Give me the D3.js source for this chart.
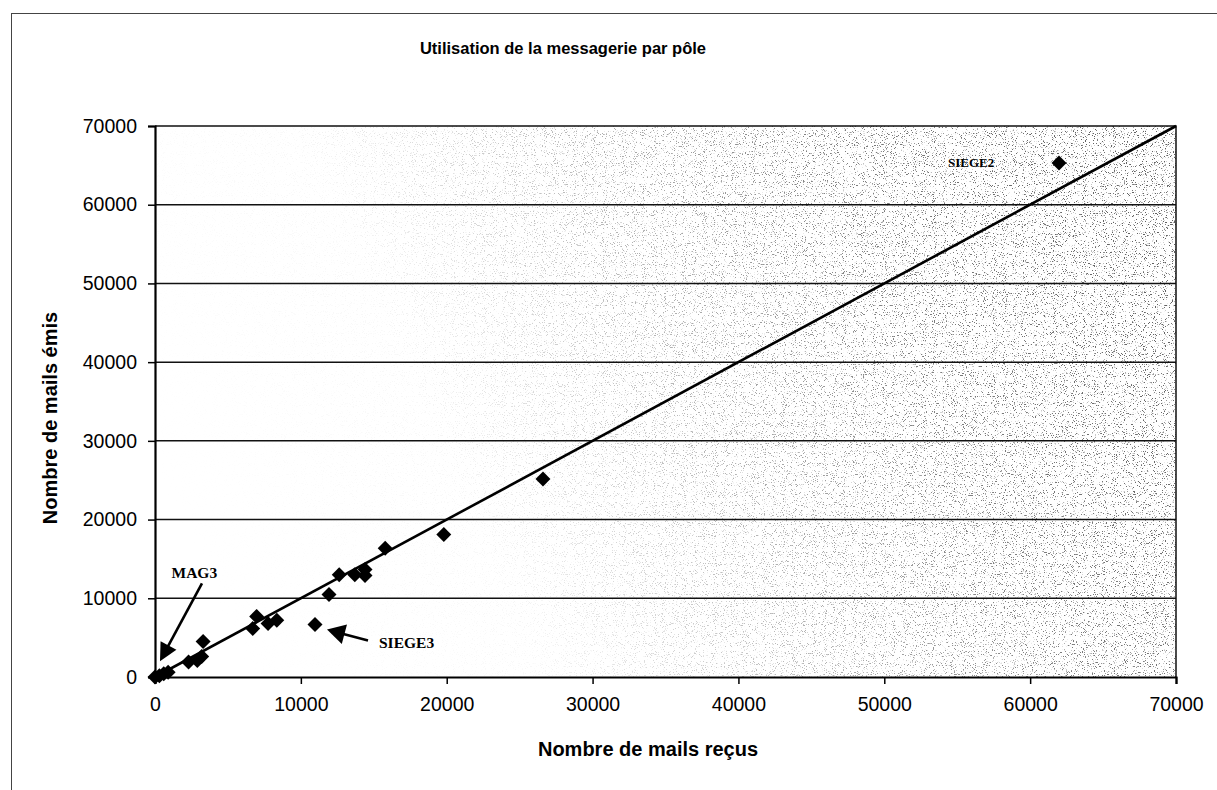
<!DOCTYPE html>
<html>
<head>
<meta charset="utf-8">
<script src="https://cdn.jsdelivr.net/npm/d3@7"></script>
<style>
  html, body { margin: 0; padding: 0; background: #fff; }
  svg { display: block; }
</style>
</head>
<body>
<svg id="chart" width="1217" height="790"></svg>
<script>
// ---- Data ----
const received = [0, 300, 600, 900, 2300, 2900, 3200, 3300, 6700, 6970, 7750, 8350, 10970, 11930, 12630, 13700, 14400, 14400, 15780, 19800, 26600, 61980];
const emitted  = [0, 150, 400, 600, 1900, 2100, 2600, 4500, 6150, 7700, 6800, 7200, 6660, 10470, 13000, 13000, 12900, 13650, 16350, 18100, 25150, 65300];
const xTicks = [0, 10000, 20000, 30000, 40000, 50000, 60000, 70000];
const yTicks = [0, 10000, 20000, 30000, 40000, 50000, 60000, 70000];
const gridValues = [10000, 20000, 30000, 40000, 50000, 60000];
const trendLine = [[0, 0], [70000, 70000]];
const labelNames = ["MAG3", "SIEGE3", "SIEGE2"];
const labelTargets = [1, 12, 21]; // index of the point each label refers to

const titleText = "Utilisation de la messagerie par pôle";
const xTitle = "Nombre de mails reçus";
const yTitle = "Nombre de mails émis";

// ---- Layout ----
const svg = d3.select("#chart");
const plot = { left: 155, right: 1176, top: 126, bottom: 677 };

const x = d3.scaleLinear().domain([0, 70000]).range([plot.left, plot.right]);
const y = d3.scaleLinear().domain([0, 70000]).range([plot.bottom, plot.top]);

const defs = svg.append("defs");

// speckled background texture
const filt = defs.append("filter").attr("id", "speckle")
  .attr("x", plot.left).attr("y", plot.top)
  .attr("width", plot.right - plot.left).attr("height", plot.bottom - plot.top)
  .attr("filterUnits", "userSpaceOnUse");
filt.append("feTurbulence").attr("type", "fractalNoise")
  .attr("baseFrequency", "0.9").attr("numOctaves", 2).attr("seed", 7).attr("result", "noise");
filt.append("feColorMatrix").attr("type", "matrix")
  .attr("values", "0 0 0 0 0.12  0 0 0 0 0.12  0 0 0 0 0.12  -10 0 0 0 3.9");

const grad = defs.append("linearGradient").attr("id", "fade")
  .attr("x1", "0").attr("y1", "0.62").attr("x2", "1").attr("y2", "0.38");
grad.append("stop").attr("offset", "0").attr("stop-color", "#000");
grad.append("stop").attr("offset", "0.27").attr("stop-color", "#0c0c0c");
grad.append("stop").attr("offset", "0.5").attr("stop-color", "#707070");
grad.append("stop").attr("offset", "0.75").attr("stop-color", "#d0d0d0");
grad.append("stop").attr("offset", "1").attr("stop-color", "#fff");

const mask = defs.append("mask").attr("id", "fadeMask");
mask.append("rect")
  .attr("x", plot.left).attr("y", plot.top)
  .attr("width", plot.right - plot.left).attr("height", plot.bottom - plot.top)
  .attr("fill", "url(#fade)");

// outer frame
svg.append("rect")
  .attr("x", 11.5).attr("y", 13.5).attr("width", 1230).attr("height", 800)
  .attr("fill", "#fff").attr("stroke", "#444").attr("stroke-width", 1);

// plot background
svg.append("g").attr("mask", "url(#fadeMask)")
  .append("rect")
  .attr("x", plot.left).attr("y", plot.top)
  .attr("width", plot.right - plot.left).attr("height", plot.bottom - plot.top)
  .attr("filter", "url(#speckle)");

// gridlines
svg.append("g").selectAll("line").data(gridValues).join("line")
  .attr("x1", plot.left).attr("x2", plot.right)
  .attr("y1", d => y(d)).attr("y2", d => y(d))
  .attr("stroke", "#111").attr("stroke-width", 1.5);

// plot border top/right
svg.append("path")
  .attr("d", `M${plot.left},${y(70000)}H${plot.right}V${plot.bottom}`)
  .attr("fill", "none").attr("stroke", "#111").attr("stroke-width", 1.5);

// axes
const xAxis = d3.axisBottom(x).tickValues(xTicks).tickSize(7).tickPadding(13).tickFormat(d3.format("d"));
const yAxis = d3.axisLeft(y).tickValues(yTicks).tickSize(7).tickPadding(11).tickFormat(d3.format("d"));

const gx = svg.append("g").attr("transform", `translate(0,${plot.bottom})`).call(xAxis);
const gy = svg.append("g").attr("transform", `translate(${plot.left},0)`).call(yAxis);
[gx, gy].forEach(g => {
  g.select(".domain").attr("stroke", "#000").attr("stroke-width", 2.2);
  g.selectAll(".tick line").attr("stroke", "#000").attr("stroke-width", 1.5);
  g.selectAll(".tick text")
    .attr("fill", "#000")
    .attr("font-family", "'Liberation Sans', Arial, sans-serif")
    .attr("font-size", 19.5);
});
gx.selectAll(".tick text").attr("dy", "0.71em");

// trend line
svg.append("path")
  .datum(trendLine)
  .attr("d", d3.line().x(d => x(d[0])).y(d => y(d[1])))
  .attr("fill", "none").attr("stroke", "#000").attr("stroke-width", 2.6);

// points
const pts = received.map((r, i) => ({ r, e: emitted[i] }));
svg.append("g").selectAll("path").data(pts).join("path")
  .attr("d", d3.symbol(d3.symbolSquare, 112))
  .attr("transform", d => `translate(${x(d.r)},${y(d.e)}) rotate(45)`)
  .attr("fill", "#000");

// annotations (arrows + labels)
function arrow(sx, sy, tx, ty, headLen, headHalf) {
  const dx = tx - sx, dy = ty - sy;
  const len = Math.hypot(dx, dy);
  const ux = dx / len, uy = dy / len;
  const bx = tx - ux * headLen, by = ty - uy * headLen;
  const px = -uy, py = ux;
  const g = svg.append("g");
  g.append("line").attr("x1", sx).attr("y1", sy).attr("x2", bx + ux * 2).attr("y2", by + uy * 2)
    .attr("stroke", "#000").attr("stroke-width", 2.6);
  g.append("path")
    .attr("d", `M${tx},${ty}L${bx + px * headHalf},${by + py * headHalf}L${bx - px * headHalf},${by - py * headHalf}Z`)
    .attr("fill", "#000");
}
const labelFont = "'Liberation Serif', 'Times New Roman', serif";

// MAG3
{
  const p = pts[labelTargets[0]];
  const px0 = x(p.r), py0 = y(p.e);
  svg.append("text").text(labelNames[0])
    .attr("x", px0 + 35).attr("y", py0 - 103.5)
    .attr("text-anchor", "middle").attr("dominant-baseline", "central")
    .attr("font-family", labelFont).attr("font-size", 15.5).attr("font-weight", "bold")
    .attr("fill", "#000");
  arrow(px0 + 42.6, py0 - 92.5, px0 + 0.6, py0 - 14.5, 18, 9);
}
// SIEGE3
{
  const p = pts[labelTargets[1]];
  const px0 = x(p.r), py0 = y(p.e);
  svg.append("text").text(labelNames[1])
    .attr("x", px0 + 64).attr("y", py0 + 17.5)
    .attr("text-anchor", "start").attr("dominant-baseline", "central")
    .attr("font-family", labelFont).attr("font-size", 15.5).attr("font-weight", "bold")
    .attr("fill", "#000");
  arrow(px0 + 53, py0 + 16, px0 + 12, py0 + 5, 18, 10);
}
// SIEGE2
{
  const p = pts[labelTargets[2]];
  const px0 = x(p.r), py0 = y(p.e);
  svg.append("text").text(labelNames[2])
    .attr("x", px0 - 111).attr("y", py0)
    .attr("text-anchor", "start").attr("dominant-baseline", "central")
    .attr("font-family", labelFont).attr("font-size", 13).attr("font-weight", "bold")
    .attr("fill", "#000");
}

// titles
svg.append("text").text(titleText)
  .attr("x", 563).attr("y", 48)
  .attr("text-anchor", "middle").attr("dominant-baseline", "central")
  .attr("font-family", "'Liberation Sans', Arial, sans-serif")
  .attr("font-size", 16.5).attr("font-weight", "bold").attr("fill", "#000");

svg.append("text").text(xTitle)
  .attr("x", 648).attr("y", 749)
  .attr("text-anchor", "middle").attr("dominant-baseline", "central")
  .attr("font-family", "'Liberation Sans', Arial, sans-serif")
  .attr("font-size", 20).attr("font-weight", "bold").attr("fill", "#000");

svg.append("text").text(yTitle)
  .attr("transform", "translate(50,418) rotate(-90)")
  .attr("text-anchor", "middle").attr("dominant-baseline", "central")
  .attr("font-family", "'Liberation Sans', Arial, sans-serif")
  .attr("font-size", 20).attr("font-weight", "bold").attr("fill", "#000");
</script>
</body>
</html>
